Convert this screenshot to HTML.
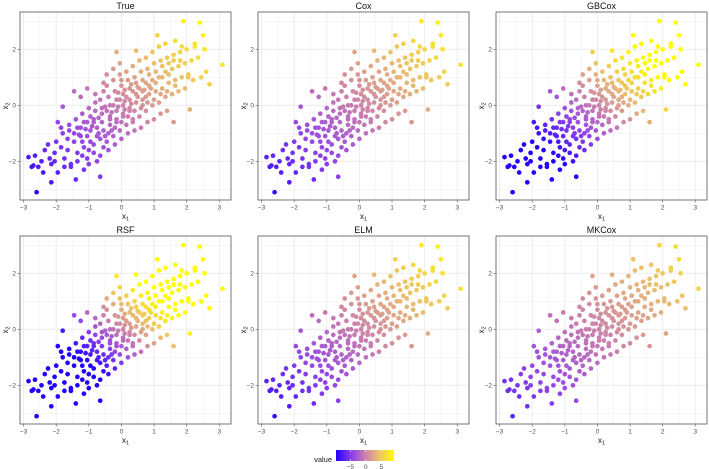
<!DOCTYPE html>
<html><head><meta charset="utf-8"><style>
body{margin:0;background:#fff;}
svg{display:block;font-family:"Liberation Sans",sans-serif;}
</style></head><body>
<svg id="chart" width="709" height="469" viewBox="0 0 709 469" xmlns="http://www.w3.org/2000/svg"></svg>
<script>
const panelNames = ["True","Cox","GBCox","RSF","ELM","MKCox"];
const panelGain = [1.6,1.5,3.0,4.2,1.5,1.2];
const xTicks = [-3,-2,-1,0,1,2,3];
const yTicks = [-2,0,2];
const legendTicks = [-5,0,5];
const points = [
[-2.85,-1.85],[-2.75,-2.2],[-2.7,-2.15],
[-2.6,-3.1],[-2.55,-2.2],[-2.65,-1.8],
[-2.45,-2.0],[-2.35,-1.6],[-2.4,-2.4],
[-2.25,-1.4],[-2.15,-2.1],[-2.15,-2.75],[-2.2,-1.9],
[-2.05,-1.7],[-1.95,-2.4],[-2.0,-1.3],[-2.05,-2.0],[-1.95,-0.6],
[-1.85,-1.5],[-1.75,-2.2],[-1.8,-1.0],[-1.85,-0.8],[-1.75,-1.9],[-1.8,-0.05],
[-1.65,-1.2],[-1.55,-2.1],[-1.6,-0.7],[-1.65,-1.6],[-1.55,-2.2],[-1.6,-0.9],
[-1.4,-2.65],[-1.45,-1.0],[-1.35,-1.7],[-1.4,-0.5],[-1.45,-1.3],[-1.35,-2.0],[-1.45,0.5],[-1.35,-0.8],
[-1.25,-0.8],[-1.15,-1.5],[-1.2,-0.3],[-1.25,-1.1],[-1.15,-2.3],[-1.2,-1.8],[-1.25,0.3],[-1.15,-0.6],[-1.2,-1.3],
[-1.05,-0.6],[-0.95,-1.3],[-1.0,-0.1],[-1.05,-1.9],[-0.95,-0.9],[-1.0,-2.1],[-1.05,0.6],[-0.95,-0.4],[-1.0,-1.6],[-1.05,-1.1],
[-0.85,-0.5],[-0.75,-1.1],[-0.8,-0.2],[-0.85,-1.7],[-0.75,-0.8],[-0.8,0.1],[-0.85,-1.4],[-0.75,-2.0],[-0.8,0.4],[-0.85,-0.6],
[-0.65,-2.55],[-0.6,-0.3],[-0.55,-0.9],[-0.65,0.2],[-0.55,-1.5],[-0.6,-0.6],[-0.65,-1.2],[-0.55,0.5],[-0.6,-0.1],[-0.65,-1.8],[-0.55,0.8],
[-0.45,-0.2],[-0.35,-0.7],[-0.4,0.3],[-0.45,-1.3],[-0.35,-0.4],[-0.4,-1.0],[-0.45,0.7],[-0.35,0.0],[-0.4,-1.6],[-0.45,1.1],[-0.35,-0.5],
[-0.25,0.0],[-0.15,-0.5],[-0.2,0.5],[-0.25,-1.1],[-0.15,-0.2],[-0.2,-0.8],[-0.25,0.9],[-0.15,0.2],[-0.2,-1.4],[-0.25,1.3],[-0.15,-0.6],
[-0.05,0.2],[0.05,-0.3],[0.0,0.7],[-0.05,-0.9],[0.05,0.0],[0.0,-0.6],[-0.05,1.1],[0.05,0.4],[0.0,-1.2],[-0.05,1.5],[0.05,-0.4],[0.0,0.9],
[0.15,0.3],[0.25,-0.1],[0.2,0.9],[0.15,-0.7],[0.25,0.2],[0.2,-0.4],[0.15,1.2],[0.25,0.6],[0.2,-1.0],[-0.15,1.9],[0.25,-0.2],
[0.35,0.5],[0.45,0.1],[0.4,1.0],[0.35,-0.5],[0.45,0.4],[0.4,-0.2],[0.35,1.4],[0.45,0.8],[0.4,-0.9],[0.45,1.95],[0.35,-0.6],
[0.55,0.6],[0.65,0.2],[0.6,1.2],[0.55,-0.4],[0.65,0.5],[0.6,-0.1],[0.55,1.6],[0.65,0.9],[0.6,-0.8],[0.65,0.0],
[0.75,0.8],[0.85,0.4],[0.8,1.3],[0.75,-0.2],[0.85,0.7],[0.8,0.1],[0.75,1.7],[0.85,1.1],[0.8,-0.6],[0.75,0.3],
[0.95,0.9],[1.05,0.5],[1.0,1.5],[0.95,0.0],[1.05,0.8],[1.0,0.2],[0.95,1.9],[1.05,1.2],[1.0,-0.5],[1.1,2.5],
[1.15,1.0],[1.25,0.6],[1.2,1.6],[1.15,0.1],[1.25,1.0],[1.2,0.4],[1.15,2.1],[1.25,1.4],[1.2,-0.3],
[1.35,1.2],[1.45,0.8],[1.4,1.7],[1.35,0.3],[1.45,1.1],[1.4,0.5],[1.35,2.2],[1.45,1.5],[1.4,-0.2],
[1.55,1.3],[1.65,0.9],[1.6,1.8],[1.55,0.4],[1.65,2.3],[1.6,1.6],[1.6,-0.6],[1.65,0.7],
[1.75,1.4],[1.85,1.0],[1.8,1.9],[1.75,0.5],[1.85,2.1],[1.8,1.6],
[1.95,1.5],[2.05,1.1],[2.0,2.0],[1.95,0.6],[1.9,3.0],[2.05,1.0],
[2.15,1.6],[2.25,2.1],[2.2,0.9],[2.1,-0.15],[2.25,2.2],
[2.35,1.7],[2.4,2.95],[2.45,1.0],[2.5,2.5],
[2.55,2.0],[2.6,1.2],
[2.7,0.75],
[3.1,1.45],
[-0.7,-0.45],[-0.5,-0.05],[-0.3,-0.9],[-0.1,-0.05],[0.1,0.55],[0.3,0.05],[0.5,0.65],[0.7,0.55],[-0.9,-0.75],[-1.1,-0.85],
[-0.3,-0.25],[0.1,-0.15],[0.3,0.75],[-0.5,-1.1],[0.9,0.6],[-0.1,0.45],[-1.3,-1.05],[0.5,0.3],[-0.7,-1.0],[0.1,0.15]
];

const svg = document.getElementById('chart');
const NS = 'http://www.w3.org/2000/svg';
function mk(tag, attrs, parent){const e=document.createElementNS(NS,tag);for(const k in attrs)e.setAttribute(k,attrs[k]);(parent||svg).appendChild(e);return e;}
const stops = [[-9.6,[34,0,255]],[-4,[150,70,230]],[0,[205,130,170]],[4,[235,190,110]],[9.1,[255,255,0]]];
function colorOf(v){
  v=Math.max(-9.6,Math.min(9.1,v));
  for(let i=0;i<stops.length-1;i++){const a=stops[i],b=stops[i+1];
    if(v<=b[0]){const t=(v-a[0])/(b[0]-a[0]);const c=a[1].map((q,j)=>Math.round(q+(b[1][j]-q)*t));return `rgb(${c[0]},${c[1]},${c[2]})`;}}
  return 'rgb(255,255,0)';
}
const PW=211, PH=188, XMIN=-3.11, XMAX=3.36, YMIN=-3.38, YMAX=3.33;
panelNames.forEach((name,p)=>{
  const c=p%3, r=Math.floor(p/3);
  const L=20+238*c, T=12+224*r;
  const sx=v=>L+(v-XMIN)/(XMAX-XMIN)*PW;
  const sy=v=>T+(YMAX-v)/(YMAX-YMIN)*PH;
  const g=mk('g',{});
  
  
  mk('rect',{x:L,y:T,width:PW,height:PH,fill:'#fff'},g);
  for(let v=-3;v<=3;v+=0.5){const major=Number.isInteger(v);mk('line',{x1:sx(v),x2:sx(v),y1:T,y2:T+PH,stroke:'#ebebeb','stroke-width':major?0.9:0.45},g);}
  for(let v=-3;v<=3;v+=1){const major=v%2===0;mk('line',{x1:L,x2:L+PW,y1:sy(v),y2:sy(v),stroke:'#ebebeb','stroke-width':major?0.9:0.45},g);}
  points.forEach(pt=>{
    const val=panelGain[p]*(pt[0]+pt[1]);
    const d=mk('circle',{cx:sx(pt[0]).toFixed(1),cy:sy(pt[1]).toFixed(1),r:2.35,fill:colorOf(val)},g);
    
    
  });
  mk('rect',{x:L,y:T,width:PW,height:PH,fill:'none',stroke:'#555','stroke-width':0.8},g);
  xTicks.forEach(v=>{mk('line',{x1:sx(v),x2:sx(v),y1:T+PH,y2:T+PH+2.5,stroke:'#555','stroke-width':0.6},g);
    const t=mk('text',{x:sx(v),y:T+PH+9.5,'font-size':6.5,fill:'#4d4d4d','text-anchor':'middle'},g);t.textContent=v===0?'0':(v<0?'−'+(-v):v);});
  yTicks.forEach(v=>{mk('line',{x1:L-2.5,x2:L,y1:sy(v),y2:sy(v),stroke:'#555','stroke-width':0.6},g);
    const t=mk('text',{x:L-4,y:sy(v)+2.3,'font-size':6.5,fill:'#4d4d4d','text-anchor':'end'},g);t.textContent=v===0?'0':(v<0?'−'+(-v):v);});
  const tt=mk('text',{x:L+PW/2,y:T-3,'font-size':9,fill:'#111','text-anchor':'middle'},g);tt.textContent=name;
  
  const xt=mk('text',{x:L+PW/2,y:T+PH+19,'font-size':8,fill:'#111','text-anchor':'middle'},g);
  xt.innerHTML='x<tspan font-size="5.5" dy="1.5">1</tspan>';
  
  const yt=mk('text',{x:0,y:0,'font-size':8,fill:'#111','text-anchor':'middle',transform:`translate(${L-12},${T+PH/2}) rotate(-90)`},g);
  yt.innerHTML='x<tspan font-size="5.5" dy="1.5">2</tspan>';
  
});
const lg=mk('g',{});


const defs=mk('defs',{},lg);
const grad=mk('linearGradient',{id:'lgGrad',x1:'0',x2:'1',y1:'0',y2:'0'},defs);
stops.forEach(s=>mk('stop',{offset:((s[0]+9.6)/18.7).toFixed(3),'stop-color':`rgb(${s[1].join(',')})`},grad));
const LX=336, LW=58;
mk('rect',{x:LX,y:450,width:LW,height:11,fill:'url(#lgGrad)'},lg);
const lsx=v=>LX+(v+9.6)/18.7*LW;
legendTicks.forEach(v=>{mk('line',{x1:lsx(v),x2:lsx(v),y1:450,y2:452,stroke:'#fff','stroke-width':0.6},lg);mk('line',{x1:lsx(v),x2:lsx(v),y1:459,y2:461,stroke:'#fff','stroke-width':0.6},lg);
  const t=mk('text',{x:lsx(v),y:469,'font-size':6.5,fill:'#4d4d4d','text-anchor':'middle'},lg);t.textContent=v<0?'−'+(-v):v;});
const lt=mk('text',{x:332,y:462,'font-size':7.5,fill:'#111','text-anchor':'end'},lg);lt.textContent='value';

</script>
</body></html>
